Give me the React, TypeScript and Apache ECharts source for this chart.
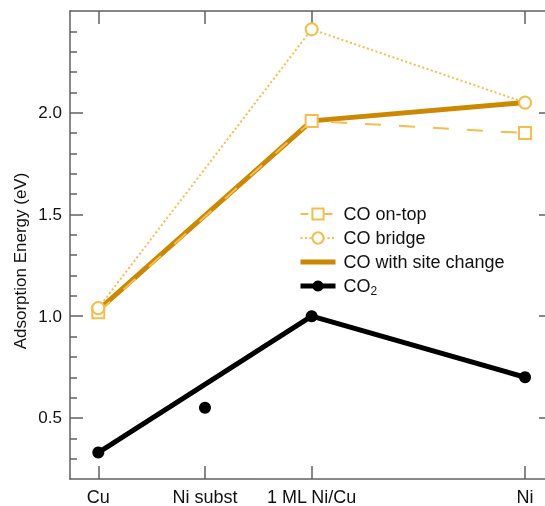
import React, { useEffect, useRef } from "react";
import * as echarts from "echarts";

const categories = ["Cu", "Ni subst", "1 ML Ni/Cu", "Ni"];
const categoryPos = [0, 1, 2, 4];
const coOnTop: (number | null)[] = [1.02, null, 1.96, 1.9];
const coBridge: (number | null)[] = [1.04, null, 2.41, 2.05];
const coSiteChange: (number | null)[] = [1.03, null, 1.96, 2.05];
const co2Line: (number | null)[] = [0.33, null, 1.0, 0.7];
const co2Isolated: (number | null)[] = [null, 0.55, null, null];
const yMajorTicks = [0.5, 1.0, 1.5, 2.0];
const yMinorTicks = [0.3, 0.4, 0.6, 0.7, 0.8, 0.9, 1.1, 1.2, 1.3, 1.4, 1.6, 1.7, 1.8, 1.9, 2.1, 2.2, 2.3, 2.4];

const LIGHT = "#F6BD4A";
const DARK = "#CC8800";
const AXIS = "#606060";
const FONT = "'Liberation Sans', Arial, sans-serif";

const toPts = (vals: (number | null)[]) =>
  vals
    .map((v, i) => (v == null ? null : [categoryPos[i], v]))
    .filter((p) => p !== null) as number[][];

export default function App() {
  const ref = useRef<HTMLDivElement>(null);
  useEffect(() => {
    if (!ref.current) return;
    const chart = echarts.init(ref.current, null, { renderer: "svg" });
    const xBase = {
      type: "value" as const,
      min: -0.265,
      max: 4.187,
      splitLine: { show: false },
      axisLine: { show: true, onZero: false, lineStyle: { color: AXIS, width: 1.5 } },
      axisTick: { show: true, inside: true, length: 13, customValues: categoryPos, lineStyle: { color: AXIS, width: 1.5 } },
    };
    const yBase = {
      type: "value" as const,
      min: 0.2,
      max: 2.5,
      splitLine: { show: false },
    };
    const tickMajor = { show: true, inside: true, length: 13, customValues: yMajorTicks, lineStyle: { color: AXIS, width: 1.5 } };
    const tickMinor = { show: true, inside: true, length: 7, customValues: yMinorTicks, lineStyle: { color: AXIS, width: 1.5 } };
    chart.setOption({
      animation: false,
      textStyle: { fontFamily: FONT },
      grid: { left: 70, top: 11, right: 0, bottom: 26, containLabel: false },
      xAxis: [
        {
          ...xBase,
          position: "bottom",
          axisLabel: {
            show: true,
            customValues: categoryPos,
            margin: 9,
            fontSize: 18,
            color: "#111",
            fontFamily: FONT,
            formatter: (v: number) => categories[categoryPos.indexOf(v)] ?? "",
          },
        },
        { ...xBase, position: "top", axisLabel: { show: false } },
      ],
      yAxis: [
        {
          ...yBase,
          position: "left",
          axisLine: { show: true, onZero: false, lineStyle: { color: AXIS, width: 1.5 } },
          axisTick: tickMajor,
          axisLabel: {
            show: true,
            customValues: yMajorTicks,
            margin: 8,
            fontSize: 17,
            color: "#111",
            fontFamily: FONT,
            formatter: (v: number) => v.toFixed(1),
          },
        },
        {
          ...yBase,
          position: "right",
          offset: 7,
          axisLine: { show: false, onZero: false },
          axisTick: tickMajor,
          axisLabel: { show: false },
        },
        {
          ...yBase,
          position: "left",
          axisLine: { show: false, onZero: false },
          axisTick: tickMinor,
          axisLabel: { show: false },
        },
      ],
      legend: {
        orient: "vertical",
        left: 298,
        top: 205,
        padding: 0,
        itemWidth: 35,
        itemHeight: 14,
        itemGap: 6,
        textStyle: {
          fontSize: 18,
          color: "#111",
          fontFamily: FONT,
          padding: [0, 0, 0, 3],
          rich: {
            sub: { fontSize: 12, fontFamily: FONT, color: "#111", padding: [9, 0, 0, 0] },
          },
        },
        formatter: (name: string) => (name === "CO2" ? "CO{sub|2}" : name),
        data: [
          { name: "CO on-top", lineStyle: { width: 2, type: [8, 4] } },
          { name: "CO bridge", lineStyle: { width: 2, type: [2, 2.5] } },
          { name: "CO with site change", icon: "path://M0,0H35V5H0Z" },
          { name: "CO2", lineStyle: { width: 5, type: "solid" } },
        ],
      },
      series: [
        {
          name: "CO with site change",
          type: "line",
          z: 2,
          data: toPts(coSiteChange),
          symbol: "none",
          itemStyle: { color: DARK },
          lineStyle: { color: DARK, width: 5 },
        },
        {
          name: "CO on-top",
          type: "line",
          z: 3,
          data: toPts(coOnTop),
          symbol: "emptyRect",
          symbolSize: 12,
          itemStyle: { color: LIGHT, borderWidth: 1.5 },
          lineStyle: { color: LIGHT, width: 2, type: [16, 18] },
        },
        {
          name: "CO bridge",
          type: "line",
          z: 4,
          data: toPts(coBridge),
          symbol: "emptyCircle",
          symbolSize: 12,
          itemStyle: { color: LIGHT, borderWidth: 1.5 },
          lineStyle: { color: LIGHT, width: 2, type: [2, 2.5] },
        },
        {
          name: "CO2",
          type: "line",
          z: 5,
          data: toPts(co2Line),
          symbol: "circle",
          symbolSize: 12,
          itemStyle: { color: "#000" },
          lineStyle: { color: "#000", width: 5 },
        },
        {
          name: "CO2 Ni subst",
          type: "scatter",
          z: 5,
          data: toPts(co2Isolated),
          symbol: "circle",
          symbolSize: 12,
          itemStyle: { color: "#000", opacity: 1 },
        },
      ],
      graphic: [
        {
          type: "text",
          x: 20,
          y: 261,
          rotation: Math.PI / 2,
          style: {
            text: "Adsorption Energy (eV)",
            fontSize: 17,
            fontFamily: FONT,
            fill: "#111",
            align: "center",
            verticalAlign: "middle",
          },
        },
      ],
    });
    return () => chart.dispose();
  }, []);
  return <div ref={ref} style={{ position: "fixed", left: 0, top: 0, width: 545, height: 506 }} />;
}
